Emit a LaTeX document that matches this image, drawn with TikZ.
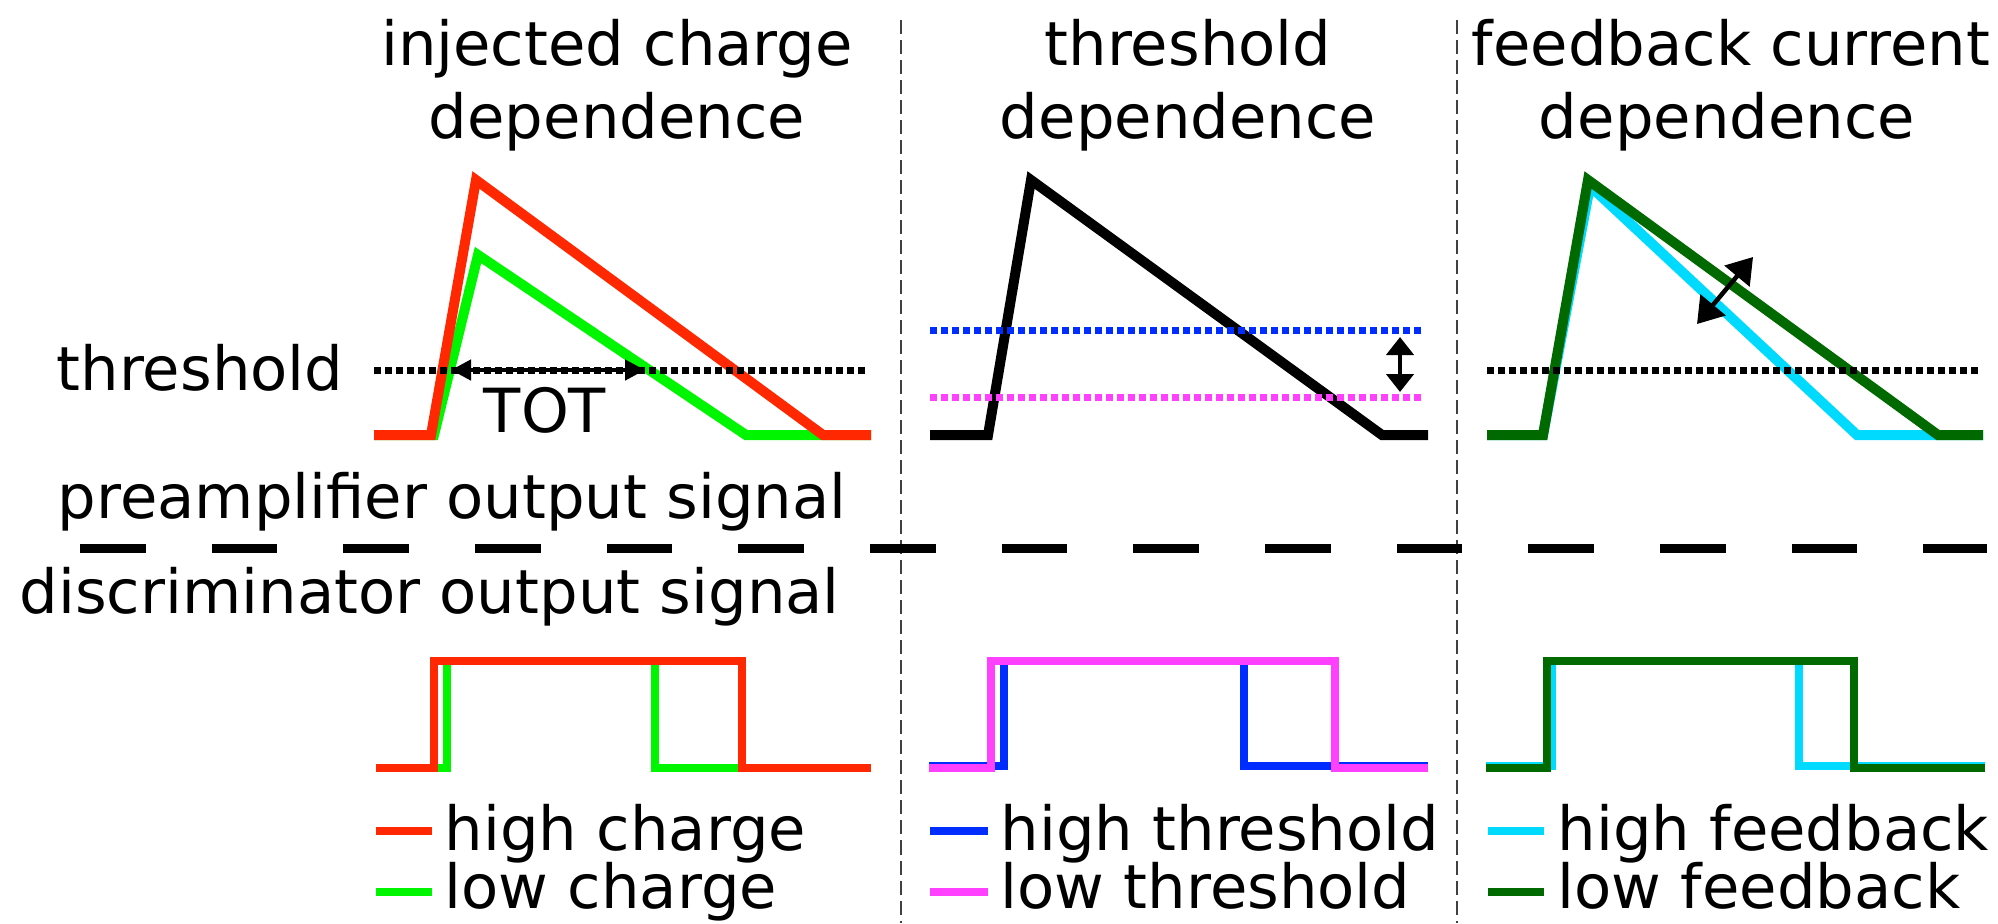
\documentclass[tikz,border=0pt]{standalone}
\usepackage{fontspec}
\setmainfont{DejaVu Sans}
\usetikzlibrary{arrows.meta}

\definecolor{hicharge}{RGB}{255,40,0}
\definecolor{locharge}{RGB}{0,245,0}
\definecolor{hithr}{RGB}{0,45,255}
\definecolor{lothr}{RGB}{255,64,255}
\definecolor{hifb}{RGB}{0,218,255}
\definecolor{lofb}{RGB}{0,105,0}

\begin{document}
\begin{tikzpicture}[
	x=0.01cm, y=-0.01cm,
	lbl/.style={ inner sep=0pt, anchor=base, font=\fontsize{17.3}{20}\selectfont },
	sig/.style={ line width=0.1cm },
	dsig/.style={ line width=0.088cm },
	thr/.style={ line width=0.07cm, dash pattern=on 0.065cm off 0.045cm },
	sepline/.style={ black!75, line width=0.022cm, dash pattern=on 0.14cm off 0.06cm },
	key/.style={ line width=0.085cm },
	dbl/.style={ line width=0.045cm, {Triangle[length=0.2cm,width=0.2cm]}-{Triangle[length=0.2cm,width=0.2cm]} }
]
\useasboundingbox (0,0) rectangle (1998,923);

% column titles
\node[lbl] (qtitle) at (617,65) {injected charge};
\node[lbl] (qdep) at (617,138) {dependence};
\node[lbl] (ttitle) at (1188,65) {threshold};
\node[lbl] (tdep) at (1188,138) {dependence};
\node[lbl] (ftitle) at (1731,65) {feedback current};
\node[lbl] (fdep) at (1727,138) {dependence};

% row labels
\node[lbl,anchor=base east] (thrlbl) at (344,390) {threshold};
\node[lbl,anchor=base west] (prelbl) at (57,518) {preamplifier output signal};
\node[lbl,anchor=base west] (disclbl) at (19,613) {discriminator output signal};

% separators
\draw[sepline] (901,20) -- (901,923);
\draw[sepline] (1457,20) -- (1457,923);
\draw[line width=0.09cm, dash pattern=on 0.655cm off 0.661cm] (80,548) -- (1987,548);

% injected charge
\draw[sig, locharge] (374,435) -- (434,435) -- (478,255) -- (746,435) -- (871,435);
\draw[sig, hicharge] (374,435) -- (431,435) -- (476,180) -- (823,435) -- (871,435);
\draw[thr] (374,370) -- (866,370);
\coordinate (totl) at (451,370);
\coordinate (totr) at (645,370);
\draw[dbl] (totl) -- (totr);
\node[lbl] (tot) at (545,432) {TOT};

\draw[dsig, locharge] (376,768) -- (447,768) -- (447,661) -- (655,661) -- (655,768) -- (742,768);
\draw[dsig, hicharge] (376,768) -- (434,768) -- (434,661) -- (742,661) -- (742,768) -- (871,768);

% threshold
\draw[sig] (930,435) -- (988,435) -- (1031,180) -- (1382,435) -- (1428,435);
\draw[thr, hithr] (930,330) -- (1423,330);
\draw[thr, lothr] (930,397) -- (1423,397);
\coordinate (thrup) at (1400,337);
\coordinate (thrdn) at (1400,392);
\draw[dbl, {Triangle[length=0.18cm,width=0.27cm]}-{Triangle[length=0.18cm,width=0.27cm]}] (thrup) -- (thrdn);

\draw[dsig, hithr] (929,766) -- (1004,766) -- (1004,661) -- (1244,661) -- (1244,766) -- (1428,766);
\draw[dsig, lothr] (929,768) -- (991,768) -- (991,661) -- (1335,661) -- (1335,768) -- (1428,768);

% feedback current
\draw[sig, hifb] (1487,435) -- (1543,435) -- (1590,186) -- (1857,435) -- (1983,435);
\draw[sig, lofb] (1487,435) -- (1543,435) -- (1588,180) -- (1938,435) -- (1983,435);
\draw[thr] (1487,370) -- (1980,370);
\coordinate (fblo) at (1697,324);
\coordinate (fbhi) at (1753,257);
\draw[dbl, {Triangle[length=0.25cm,width=0.32cm]}-{Triangle[length=0.25cm,width=0.32cm]}] (fblo) -- (fbhi);

\draw[dsig, hifb] (1486,766) -- (1552,766) -- (1552,661) -- (1799,661) -- (1799,766) -- (1985,766);
\draw[dsig, lofb] (1486,768) -- (1547,768) -- (1547,661) -- (1854,661) -- (1854,768) -- (1985,768);

% legend
\draw[key, hicharge] (376,831) -- (432,831);
\node[lbl,anchor=base west] (hc) at (444,850) {high charge};
\draw[key, locharge] (376,892) -- (432,892);
\node[lbl,anchor=base west] (lc) at (444,908) {low charge};
\draw[key, hithr] (930,831) -- (988,831);
\node[lbl,anchor=base west] (ht) at (1000,850) {high threshold};
\draw[key, lothr] (930,892) -- (988,892);
\node[lbl,anchor=base west] (lt) at (1000,908) {low threshold};
\draw[key, hifb] (1488,831) -- (1544,831);
\node[lbl,anchor=base west] (hf) at (1557,850) {high feedback};
\draw[key, lofb] (1488,892) -- (1544,892);
\node[lbl,anchor=base west] (lf) at (1557,908) {low feedback};

\end{tikzpicture}
\end{document}
